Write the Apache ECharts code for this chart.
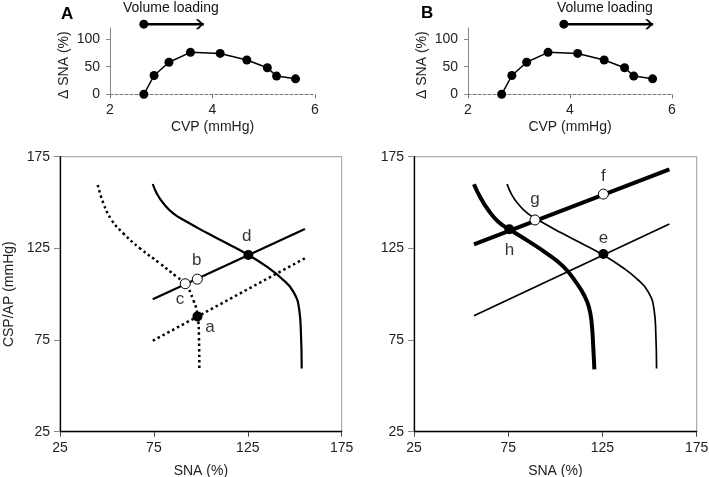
<!DOCTYPE html>
<html><head><meta charset="utf-8">
<script src="https://cdn.jsdelivr.net/npm/echarts@6/dist/echarts.min.js"></script>
<style>html,body{margin:0;padding:0;background:#fff}#c{width:709px;height:477px}</style>
</head><body><div id="c"></div>
<script>
// ---- Top panels: CVP vs ΔSNA ----
const cvp = [2.66, 2.86, 3.15, 3.57, 4.15, 4.67, 5.07, 5.25, 5.62];
const deltaSNA = [0, 34, 58, 76, 74, 62, 48, 33, 28];
const topXTicks = [2, 4, 6];
const topYTicks = [0, 50, 100];
// volume loading arrows (start, end) in CVP units, drawn at ΔSNA level
const arrowA = [2.66, 3.83];
const arrowB = [3.88, 5.63];
const arrowLevel = 127;

// ---- Bottom panels: SNA (%) vs CSP/AP (mmHg) ----
const bottomTicks = [25, 75, 125, 175];
// baroreflex neural arc (control), solid
const neuralSNA = [74.4, 76.5, 80, 85.3, 92.5, 103.1, 113.8, 125.3, 135.1, 143, 149.2, 152.4, 153.3, 153.7];
const neuralP   = [160.1, 155, 149.6, 144.1, 139.5, 133.5, 127.8, 121.4, 115, 108.6, 101.4, 91.4, 78.6, 59.5];
// neural arc (dotted, panel A)
const neuralDotSNA = [45.1, 48.1, 52.5, 58.7, 67.6, 78.2, 87.1, 91.7, 96, 98.3, 99, 99.2];
const neuralDotP   = [159.6, 149.6, 140.5, 133.2, 125, 116.8, 109.5, 105.6, 96.8, 88, 76.8, 59.5];
// neural arc (thick, panel B)
const neuralThickSNA = [56.8, 60, 64.4, 69.7, 75.6, 84.8, 95.4, 104.3, 111.4, 115.5, 117.8, 119.2, 120.2, 120.7];
const neuralThickP   = [160, 153.2, 145.9, 139.5, 135.4, 129.5, 122.3, 115, 105.9, 99, 93, 85, 69.5, 59];
// peripheral arcs (straight lines), endpoints
const periphSolidA = [[74.4, 97.2], [155.4, 135.6]];
const periphDotA   = [[74.4, 74.6], [155.4, 119.6]];
const periphThinB  = [[56.8, 88.3], [160.5, 138.3]];
const periphThickB = [[56.8, 127.2], [160.5, 168.1]];
// operating points
const filledA = [[125.3, 121.4], [98.2, 87.9]];
const openA   = [[98.1, 108.2], [91.7, 105.7]];
const filledB = [[125.5, 121.9], [75.6, 135.4]];
const openB   = [[125.5, 154.6], [89.2, 140.5]];
// point letters
const lettersA = [['d', 124.4, 131.6], ['b', 97.8, 118.6], ['c', 88.9, 97], ['a', 104.9, 82.1]];
const lettersB = [['f', 125.5, 164.3], ['g', 89.2, 151.8], ['e', 125.5, 130.5], ['h', 75.6, 124.1]];

const zip = (a, b) => a.map((v, i) => [v, b[i]]);
const FONT = 'Liberation Sans, Arial, sans-serif';
const chevron = 'path://M0,0 L2.6,0 L8,5 L2.6,10 L0,10 L5.4,5 Z';

function topX(gi) {
  return {
    gridIndex: gi, type: 'value', min: 2, max: 6, interval: 2,
    name: 'CVP (mmHg)', nameLocation: 'middle', nameGap: 26,
    nameTextStyle: { fontSize: 14, color: '#222', fontFamily: FONT },
    axisLine: { show: true, lineStyle: { color: '#777', width: 1, type: [3, 2] } },
    axisTick: { show: true, length: 4, lineStyle: { color: '#777' } },
    axisLabel: { fontSize: 14, color: '#222', fontFamily: FONT, margin: 9 },
    splitLine: { show: false }
  };
}
function topY(gi) {
  return {
    gridIndex: gi, type: 'value', min: 0, max: 120,
    name: 'Δ SNA (%)', nameLocation: 'middle', nameGap: 39,
    nameTextStyle: { fontSize: 14, color: '#222', fontFamily: FONT, padding: [0, 0, 0, -8] },
    axisLine: { show: true, lineStyle: { color: '#888', width: 1 } },
    axisTick: { show: true, length: 4, customValues: topYTicks, lineStyle: { color: '#888' } },
    axisLabel: { fontSize: 14, color: '#222', fontFamily: FONT, margin: 10, customValues: topYTicks },
    splitLine: { show: false }
  };
}
function botX(gi) {
  return {
    gridIndex: gi, type: 'value', min: 25, max: 175, interval: 50,
    name: 'SNA (%)', nameLocation: 'middle', nameGap: 32,
    nameTextStyle: { fontSize: 14, color: '#222', fontFamily: FONT },
    axisLine: { show: true, lineStyle: { color: '#000', width: 1.3 } },
    axisTick: { show: true, length: 5, lineStyle: { color: '#444' } },
    axisLabel: { fontSize: 14, color: '#222', fontFamily: FONT, margin: 9 },
    splitLine: { show: false }
  };
}
function botY(gi, named) {
  return {
    gridIndex: gi, type: 'value', min: 25, max: 175, interval: 50,
    name: named ? 'CSP/AP (mmHg)' : '', nameLocation: 'middle', nameGap: 44,
    nameTextStyle: { fontSize: 14, color: '#222', fontFamily: FONT },
    axisLine: { show: true, lineStyle: { color: '#000', width: 1.3 } },
    axisTick: { show: true, length: 6, lineStyle: { color: '#888' } },
    axisLabel: { fontSize: 14, color: '#222', fontFamily: FONT, margin: 10 },
    splitLine: { show: false }
  };
}

function topSeries(gi, arrow) {
  return [
    { type: 'line', xAxisIndex: gi, yAxisIndex: gi, data: zip(cvp, deltaSNA),
      symbol: 'circle', symbolSize: 9, itemStyle: { color: '#000' },
      lineStyle: { color: '#000', width: 1.5 }, animation: false, z: 3 },
    { type: 'line', xAxisIndex: gi, yAxisIndex: gi, clip: false, animation: false,
      data: [
        { value: [arrow[0], arrowLevel], symbol: 'circle', symbolSize: 9 },
        { value: [arrow[1], arrowLevel], symbol: chevron, symbolSize: [8, 10], symbolOffset: [-4, 0] }
      ],
      itemStyle: { color: '#000' }, lineStyle: { color: '#000', width: 2.5 } }
  ];
}
function curve(gi, xs, ys, width, dash) {
  return { type: 'line', xAxisIndex: gi, yAxisIndex: gi, data: zip(xs, ys), smooth: 0.5,
    showSymbol: false, animation: false, z: 2,
    lineStyle: { color: '#000', width: width, type: dash || 'solid' } };
}
function straight(gi, pts, width, dash) {
  return { type: 'line', xAxisIndex: gi, yAxisIndex: gi, data: pts, showSymbol: false,
    animation: false, z: 2, lineStyle: { color: '#000', width: width, type: dash || 'solid' } };
}
function points(gi, pts, filled) {
  return { type: 'scatter', xAxisIndex: gi, yAxisIndex: gi, data: pts, symbolSize: 10,
    animation: false, z: 5,
    itemStyle: filled ? { color: '#000', opacity: 1 } : { color: '#fff', borderColor: '#000', borderWidth: 1, opacity: 1 } };
}
function letters(gi, arr) {
  return { type: 'scatter', xAxisIndex: gi, yAxisIndex: gi, symbolSize: 0, animation: false, z: 6,
    data: arr.map(l => ({ name: l[0], value: [l[1], l[2]] })),
    label: { show: true, position: 'inside', formatter: '{b}', fontSize: 17, color: '#000', fontFamily: FONT } };
}

const chart = echarts.init(document.getElementById('c'), null, { renderer: 'canvas' });
chart.setOption({
  backgroundColor: '#fff',
  animation: false,
  grid: [
    { left: 110, top: 28, width: 205, height: 66.3, outerBoundsMode: 'none', containLabel: false },
    { left: 468, top: 28, width: 204, height: 66.3, outerBoundsMode: 'none', containLabel: false },
    { left: 60, top: 156.7, width: 281.7, height: 275, show: true, borderColor: '#999', borderWidth: 1, outerBoundsMode: 'none', containLabel: false },
    { left: 414, top: 156.7, width: 282.7, height: 275, show: true, borderColor: '#999', borderWidth: 1, outerBoundsMode: 'none', containLabel: false }
  ],
  xAxis: [topX(0), topX(1), botX(2), botX(3)],
  yAxis: [topY(0), topY(1), botY(2, true), botY(3, false)],
  graphic: [
    { type: 'text', left: 61, top: 6, style: { text: 'A', font: 'bold 17px ' + FONT, fill: '#000' } },
    { type: 'text', left: 421, top: 5, style: { text: 'B', font: 'bold 17px ' + FONT, fill: '#000' } },
    { type: 'text', left: 123, top: 1, style: { text: 'Volume loading', font: '14px ' + FONT, fill: '#111' } },
    { type: 'text', left: 557, top: 1, style: { text: 'Volume loading', font: '14px ' + FONT, fill: '#111' } }
  ],
  series: [
    ...topSeries(0, arrowA),
    ...topSeries(1, arrowB),
    curve(2, neuralSNA, neuralP, 2.2),
    curve(2, neuralDotSNA, neuralDotP, 2.5, [2.5, 3]),
    straight(2, periphSolidA, 2.2),
    straight(2, periphDotA, 2.5, [2.5, 3]),
    points(2, filledA, true),
    points(2, openA, false),
    letters(2, lettersA),
    curve(3, neuralSNA, neuralP, 1.7),
    curve(3, neuralThickSNA, neuralThickP, 4),
    straight(3, periphThinB, 1.7),
    straight(3, periphThickB, 4),
    points(3, filledB, true),
    points(3, openB, false),
    letters(3, lettersB)
  ]
});
</script>
</body></html>
